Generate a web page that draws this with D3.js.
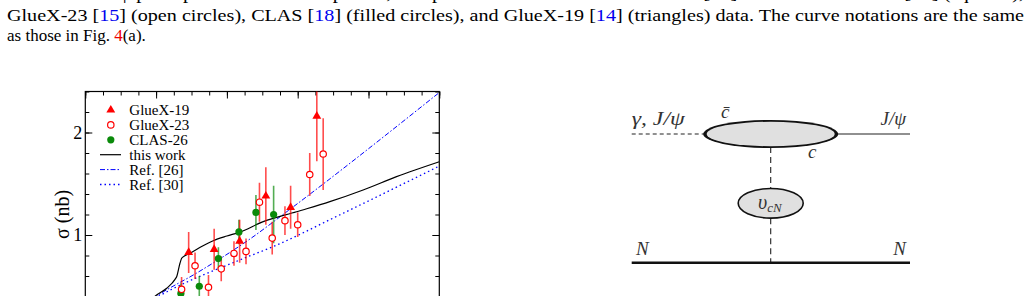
<!DOCTYPE html>
<html>
<head>
<meta charset="utf-8">
<script src="https://cdn.jsdelivr.net/npm/d3@7"></script>
<style>
  html, body { margin: 0; padding: 0; background: #fff; overflow: hidden; }
  svg { display: block; }
</style>
</head>
<body>
<svg id="page" width="1027" height="296"></svg>
<script>
// caption lines
const captionTop = "tions of the J/ψ photoproduction on the proton, compared with the data of GlueX-23 [15] and the earlier data [16] (squares),";
const captionLine2 = [["GlueX-23 [", "#000"], ["15", "#0000ee"], ["] (open circles), CLAS [", "#000"], ["18", "#0000ee"],
  ["] (filled circles), and GlueX-19 [", "#000"], ["14", "#0000ee"], ["] (triangles) data.  The curve notations are the same", "#000"]];
const captionLine3 = [["as those in Fig. ", "#000"], ["4", "#ee0000"], ["(a).", "#000"]];

// data (E_gamma in GeV, sigma in nb)
const gluex19E = [9.46, 9.82, 10.18, 10.55, 10.90, 11.27];
const gluex19Sigma = [0.83, 0.86, 0.94, 1.38, 1.27, 2.16];
const gluex19Err = [0.20, 0.20, 0.21, 0.28, 0.21, 0.44];

const gluex23E = [9.36, 9.55, 9.74, 9.92, 10.10, 10.27, 10.46, 10.64, 10.82, 11.00, 11.17, 11.36];
const gluex23Sigma = [0.47, 0.70, 0.49, 0.67, 0.82, 0.84, 1.32, 0.97, 1.14, 1.10, 1.59, 1.79];
const gluex23Err = [0.12, 0.13, 0.12, 0.12, 0.12, 0.125, 0.19, 0.16, 0.14, 0.12, 0.21, 0.35];

const clasE = [9.35, 9.61, 9.88, 10.17, 10.41, 10.66];
const clasSigma = [0.43, 0.50, 0.77, 1.03, 1.22, 1.20];
const clasErr = [0.10, 0.10, 0.11, 0.12, 0.17, 0.28];

const thisWorkE = [8.6, 8.8, 8.99, 9.15, 9.27, 9.29, 9.337, 9.361, 9.40, 9.478, 9.65, 9.807, 10.0, 10.174, 10.513, 10.984, 11.454, 11.924, 12.396, 13.0];
const thisWorkSigma = [0.12, 0.26, 0.405, 0.48, 0.57, 0.593, 0.724, 0.773, 0.795, 0.821, 0.89, 0.944, 0.99, 1.026, 1.13, 1.227, 1.325, 1.439, 1.569, 1.715];

const ref26E = [8.6, 9.01, 9.6, 10.33, 10.87, 13.0];
const ref26Sigma = [0.2, 0.405, 0.64, 0.963, 1.24, 2.39];

const ref30E = [8.6, 9.03, 10.18, 10.65, 11.59, 13.0];
const ref30Sigma = [0.22, 0.40, 0.756, 0.886, 1.195, 1.673];

const legendLabels = ["GlueX-19", "GlueX-23", "CLAS-26", "this work", "Ref. [26]", "Ref. [30]"];
const yTickLabels = [1, 2];

const svg = d3.select("#page");
const serif = "'Liberation Serif', 'Times New Roman', serif";

// ---------- caption text ----------
svg.append("text")
    .attr("x", 7).attr("y", -1)
    .attr("font-family", serif).attr("font-size", 17)
    .attr("textLength", 1017).attr("lengthAdjust", "spacingAndGlyphs")
    .text(captionTop);

function captionText(parts, y, len) {
    const t = svg.append("text")
        .attr("x", 7).attr("y", y)
        .attr("font-family", serif).attr("font-size", 17);
    if (len) t.attr("textLength", len).attr("lengthAdjust", "spacingAndGlyphs");
    parts.forEach(p => t.append("tspan").attr("fill", p[1]).text(p[0]));
}
captionText(captionLine2, 20.5, 1017);
captionText(captionLine3, 40.5, null);

// ---------- chart ----------
const x = d3.scaleLinear().domain([8, 13]).range([85.3, 439.3]);
const y = d3.scaleLinear().domain([0, 2.4]).range([337.5, 91.5]);

const defs = svg.append("defs");
defs.append("clipPath").attr("id", "plotclip")
  .append("rect")
    .attr("x", x(8)).attr("y", y(2.4))
    .attr("width", x(13) - x(8)).attr("height", y(0) - y(2.4));

const chart = svg.append("g");

const majorX = d3.range(8, 13.01, 1);
const minorX = d3.range(8, 13.01, 0.25);
const majorY = d3.range(0, 2.41, 1);
const minorY = d3.range(0, 2.41, 0.2);

function styleAxis(g) {
    g.select(".domain").remove();
    g.selectAll(".tick line").attr("stroke", "#000").attr("stroke-width", 1);
}

// top / bottom ticks (pointing inward); bottom labels fall below the window
chart.append("g").attr("transform", `translate(0,${y(2.4)})`)
    .call(d3.axisTop(x).tickValues(minorX).tickSize(-4).tickFormat(""))
    .call(styleAxis);
chart.append("g").attr("transform", `translate(0,${y(2.4)})`)
    .call(d3.axisTop(x).tickValues(majorX).tickSize(-7).tickFormat(""))
    .call(styleAxis);
chart.append("g").attr("transform", `translate(0,${y(0)})`)
    .call(d3.axisBottom(x).tickValues(minorX).tickSize(-4).tickFormat(""))
    .call(styleAxis);
chart.append("g").attr("transform", `translate(0,${y(0)})`)
    .call(d3.axisBottom(x).tickValues(majorX).tickSize(-7).tickFormat(""))
    .call(styleAxis);

// left / right ticks
chart.append("g").attr("transform", `translate(${x(8)},0)`)
    .call(d3.axisLeft(y).tickValues(minorY).tickSize(-4).tickFormat(""))
    .call(styleAxis);
chart.append("g").attr("transform", `translate(${x(8)},0)`)
    .call(d3.axisLeft(y).tickValues(yTickLabels).tickSize(-7).tickPadding(3).tickFormat(d3.format("d")))
    .call(styleAxis)
    .call(g => g.selectAll("text").attr("font-family", serif).attr("font-size", 18).attr("fill", "#000"));
chart.append("g").attr("transform", `translate(${x(13)},0)`)
    .call(d3.axisRight(y).tickValues(minorY).tickSize(-4).tickFormat(""))
    .call(styleAxis);
chart.append("g").attr("transform", `translate(${x(13)},0)`)
    .call(d3.axisRight(y).tickValues(majorY).tickSize(-7).tickFormat(""))
    .call(styleAxis);

// frame
chart.append("rect")
    .attr("x", x(8)).attr("y", y(2.4))
    .attr("width", x(13) - x(8)).attr("height", y(0) - y(2.4))
    .attr("fill", "none").attr("stroke", "#000").attr("stroke-width", 1.2);

// y label
chart.append("text")
    .attr("transform", `translate(69,${y(1.2)}) rotate(-90)`)
    .attr("text-anchor", "middle")
    .attr("font-family", serif).attr("font-size", 20)
    .text("σ (nb)");

const plot = chart.append("g").attr("clip-path", "url(#plotclip)");

// curves
const line = d3.line().x(d => x(d[0])).y(d => y(d[1])).curve(d3.curveMonotoneX);
const curves = [
    { e: ref30E, s: ref30Sigma, color: "#0000ff", dash: "1.5,3", w: 1.3 },
    { e: ref26E, s: ref26Sigma, color: "#0000ff", dash: "5,2,1.5,2", w: 1 },
    { e: thisWorkE, s: thisWorkSigma, color: "#000", dash: null, w: 1.2 }
];
curves.forEach(c => {
    plot.append("path")
        .datum(d3.zip(c.e, c.s))
        .attr("d", line)
        .attr("fill", "none")
        .attr("stroke", c.color)
        .attr("stroke-width", c.w)
        .attr("stroke-dasharray", c.dash);
});

// error bars and markers
function errorBars(E, S, Err, color) {
    plot.selectAll(null)
        .data(d3.zip(E, S, Err))
        .enter().append("line")
        .attr("x1", d => x(d[0])).attr("x2", d => x(d[0]))
        .attr("y1", d => y(d[1] - d[2])).attr("y2", d => y(d[1] + d[2]))
        .attr("stroke", color).attr("stroke-opacity", 0.7).attr("stroke-width", 1.6);
}
errorBars(clasE, clasSigma, clasErr, "#0a8a0a");
errorBars(gluex23E, gluex23Sigma, gluex23Err, "#ff0000");
errorBars(gluex19E, gluex19Sigma, gluex19Err, "#ff0000");

const tri = d3.symbol().type(d3.symbolTriangle).size(34);

plot.selectAll(".clas")
    .data(d3.zip(clasE, clasSigma))
    .enter().append("circle")
    .attr("class", "clas")
    .attr("cx", d => x(d[0])).attr("cy", d => y(d[1]))
    .attr("r", 3.6).attr("fill", "#0a8a0a");

plot.selectAll(".g23")
    .data(d3.zip(gluex23E, gluex23Sigma))
    .enter().append("circle")
    .attr("class", "g23")
    .attr("cx", d => x(d[0])).attr("cy", d => y(d[1]))
    .attr("r", 3.2).attr("fill", "#fff").attr("stroke", "#ff0000").attr("stroke-width", 1.2);

plot.selectAll(".g19")
    .data(d3.zip(gluex19E, gluex19Sigma))
    .enter().append("path")
    .attr("class", "g19")
    .attr("transform", d => `translate(${x(d[0])},${y(d[1])})`)
    .attr("d", tri).attr("fill", "#ff0000");

// legend
const legend = chart.append("g");
const lx = 110.8, ltext = 129.3, ly0 = 110, ldy = 14.9;
legendLabels.forEach((label, i) => {
    const cy = ly0 + i * ldy;
    legend.append("text")
        .attr("x", ltext).attr("y", cy + 5)
        .attr("font-family", serif).attr("font-size", 15)
        .text(label);
    if (i === 0) {
        legend.append("path").attr("transform", `translate(${lx},${cy})`).attr("d", tri).attr("fill", "#ff0000");
    } else if (i === 1) {
        legend.append("circle").attr("cx", lx).attr("cy", cy).attr("r", 3.2)
            .attr("fill", "#fff").attr("stroke", "#ff0000").attr("stroke-width", 1.2);
    } else if (i === 2) {
        legend.append("circle").attr("cx", lx).attr("cy", cy).attr("r", 3.6).attr("fill", "#0a8a0a");
    } else {
        const c = curves[5 - i];
        legend.append("line")
            .attr("x1", 100).attr("x2", 121).attr("y1", cy).attr("y2", cy)
            .attr("stroke", c.color).attr("stroke-width", c.w)
            .attr("stroke-dasharray", c.dash);
    }
});

// ---------- diagram ----------
const dg = svg.append("g");
const ital = { "font-family": serif, "font-style": "italic", "font-size": 19, "fill": "#333" };
function label(txt, xx, yy, anchor) {
    const t = dg.append("text").attr("x", xx).attr("y", yy).attr("text-anchor", anchor || "start");
    Object.entries(ital).forEach(([k, v]) => t.attr(k, v));
    t.text(txt);
    return t;
}
const cx0 = 770.7, topY = 134, blobY = 203.3, baseY = 262.7, leftX = 631.7, rightX = 910;

dg.append("line").attr("x1", leftX).attr("x2", 705).attr("y1", topY).attr("y2", topY)
    .attr("stroke", "#222").attr("stroke-width", 1.1).attr("stroke-dasharray", "4,3");
dg.append("line").attr("x1", 836).attr("x2", rightX).attr("y1", topY).attr("y2", topY)
    .attr("stroke", "#222").attr("stroke-width", 1.2);
dg.append("line").attr("x1", cx0).attr("x2", cx0).attr("y1", topY + 13).attr("y2", blobY - 15)
    .attr("stroke", "#222").attr("stroke-width", 1.1).attr("stroke-dasharray", "6,4");
dg.append("line").attr("x1", cx0).attr("x2", cx0).attr("y1", blobY + 15).attr("y2", baseY)
    .attr("stroke", "#222").attr("stroke-width", 1.1).attr("stroke-dasharray", "6,4");
dg.append("line").attr("x1", leftX).attr("x2", rightX).attr("y1", baseY).attr("y2", baseY)
    .attr("stroke", "#111").attr("stroke-width", 2.4);
// big blob: outer dark ellipse with inner grey one gives thick ends
dg.append("ellipse").attr("cx", cx0).attr("cy", topY).attr("rx", 67.5).attr("ry", 14)
    .attr("fill", "#111");
dg.append("ellipse").attr("cx", cx0).attr("cy", topY).attr("rx", 64).attr("ry", 12.2)
    .attr("fill", "#e0e0e0");
dg.append("ellipse").attr("cx", cx0).attr("cy", blobY).attr("rx", 32.5).attr("ry", 14.8)
    .attr("fill", "#e0e0e0").attr("stroke", "#111").attr("stroke-width", 1.6);

label("γ, J/ψ", leftX, 125).attr("textLength", 53).attr("lengthAdjust", "spacingAndGlyphs");
label("c̄", 721, 118);
label("J/ψ", 906, 125, "end");
label("c", 808, 158);
label("N", 636, 255);
label("N", 906, 255, "end");
const v = label("υ", 758, 209);
v.attr("font-size", 20);
v.append("tspan").attr("font-size", 13).attr("dy", 3).text("cN");
</script>
</body>
</html>
